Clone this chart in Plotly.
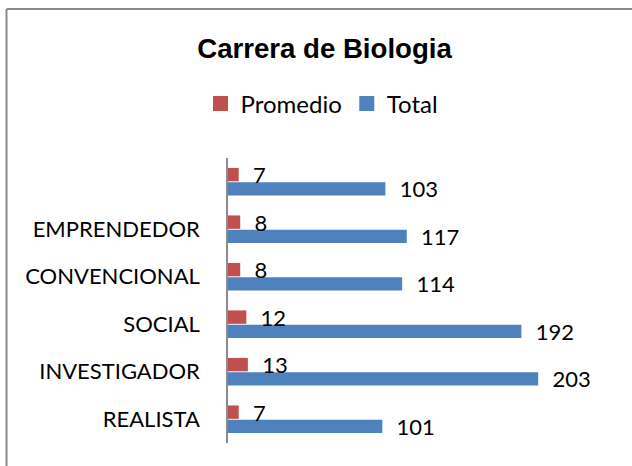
import plotly.graph_objects as go

categories = ["REALISTA", "INVESTIGADOR", "SOCIAL", "CONVENCIONAL", "EMPRENDEDOR", ""]
total = [101, 203, 192, 114, 117, 103]
promedio = [7, 13, 12, 8, 8, 7]
positions = list(range(len(categories)))

RED = "#C0504D"
BLUE = "#4F81BD"

W, H = 632, 466
L, R, T, B = 228, 22, 158, 23
XMAX = 250

fig = go.Figure()
fig.add_trace(go.Bar(
    y=positions, x=total, orientation="h", name="Total", showlegend=False,
    marker=dict(color=BLUE, line=dict(width=0)),
    texttemplate="\u00a0\u00a0%{x}", textposition="outside",
    textfont=dict(family="Lato", size=22, color="#000000"),
    constraintext="none", cliponaxis=False, hoverinfo="x+name",
))
fig.add_trace(go.Bar(
    y=positions, x=promedio, orientation="h", name="Promedio", showlegend=False,
    marker=dict(color=RED, line=dict(width=0)),
    texttemplate="\u00a0\u00a0%{x}", textposition="outside",
    textfont=dict(family="Lato", size=22, color="#000000"),
    constraintext="none", cliponaxis=False, hoverinfo="x+name",
))
# legend entries (square swatches like the original)
for name, col in [("Promedio", RED), ("Total", BLUE)]:
    fig.add_trace(go.Scatter(
        x=[None], y=[None], mode="markers", name=name,
        marker=dict(symbol="square", size=15, color=col),
        showlegend=True, hoverinfo="skip",
    ))

pw = W - L - R
ph = H - T - B
def px2paper_x(px):
    return (px - L) / pw
def py2paper_y(py):
    return (H - B - py) / ph

fig.update_layout(
    width=W, height=H,
    margin=dict(l=L, r=R, t=T, b=B, pad=0),
    paper_bgcolor="white", plot_bgcolor="white",
    barmode="group", bargap=0.4, bargroupgap=0.06,
    title=dict(text="<b>Carrera de Biologia</b>", xref="container", yref="container",
               x=324.5 / W, y=1 - 48 / H, xanchor="center", yanchor="middle",
               font=dict(family="Liberation Sans", size=27.6, color="#000000")),
    legend=dict(orientation="h", xref="container", yref="container",
                x=322 / W, y=1 - 104 / H, xanchor="center", yanchor="middle",
                font=dict(family="Lato", size=24, color="#000000"),
                bgcolor="rgba(0,0,0,0)"),
    xaxis=dict(range=[0, XMAX], visible=False, fixedrange=True),
    yaxis=dict(range=[-0.5, len(categories) - 0.5], tickvals=positions, ticktext=categories,
               showline=True, linecolor="#8C8C8C", linewidth=1.5, showgrid=False,
               zeroline=False, ticks="", ticklabelstandoff=22,
               tickfont=dict(family="Lato", size=22, color="#000000"), fixedrange=True),
    shapes=[
        dict(type="line", xref="paper", yref="paper",
             x0=px2paper_x(6.5), x1=px2paper_x(640), y0=py2paper_y(9), y1=py2paper_y(9),
             line=dict(color="#8A8A8A", width=2)),
        dict(type="line", xref="paper", yref="paper",
             x0=px2paper_x(6.5), x1=px2paper_x(6.5), y0=py2paper_y(9), y1=py2paper_y(470),
             line=dict(color="#8A8A8A", width=2)),
    ],
    showlegend=True,
)

fig.write_html("out.html", config={"displayModeBar": False},
               post_script="document.body.style.margin='0px';")
